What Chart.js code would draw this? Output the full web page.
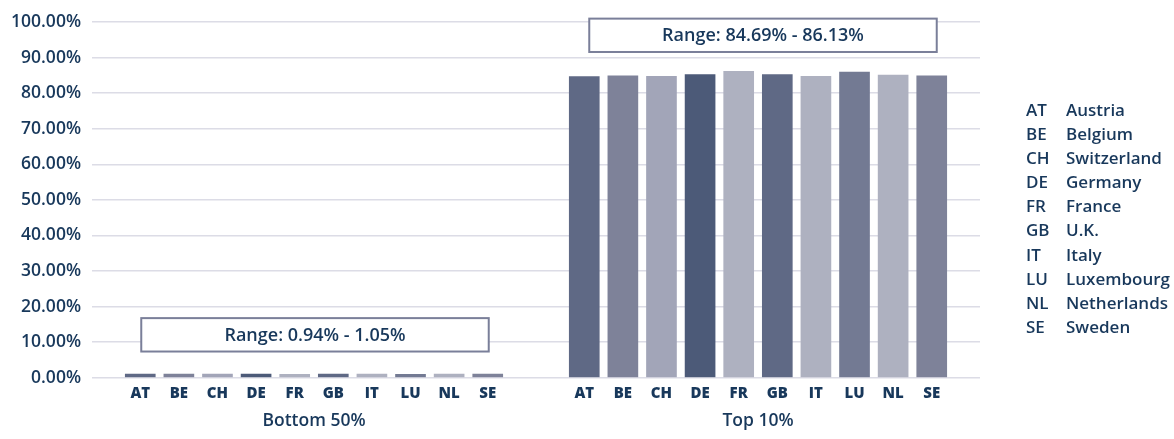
<!DOCTYPE html>
<html>
<head>
<meta charset="utf-8">
<script src="https://cdn.jsdelivr.net/npm/chart.js@4.4.1/dist/chart.umd.min.js"></script>
<style>
  html, body { margin: 0; padding: 0; background: #ffffff; }
  #wrap { position: relative; width: 1174px; height: 439px; }
  #legend { position: absolute; left: 1026px; top: 98px; font-family: "Open Sans", sans-serif; font-weight: 600; font-size: 17px; color: #18385b; }
  #legend div { height: 24.1px; line-height: 24.1px; white-space: nowrap; }
  #legend span { display: inline-block; width: 40px; }
</style>
</head>
<body>
<div id="wrap">
  <canvas id="chart" width="1174" height="439"></canvas>
  <div id="legend"></div>
</div>
<script>
const codes = ['AT', 'BE', 'CH', 'DE', 'FR', 'GB', 'IT', 'LU', 'NL', 'SE'];
const countries = ['Austria', 'Belgium', 'Switzerland', 'Germany', 'France', 'U.K.', 'Italy', 'Luxembourg', 'Netherlands', 'Sweden'];
const groups = ['Bottom 50%', 'Top 10%'];
const bottom50 = [1.05, 1.02, 1.01, 1.04, 0.97, 1.03, 1.00, 0.94, 1.00, 1.02];
const top10 = [84.69, 84.85, 84.70, 85.25, 86.13, 85.20, 84.72, 85.95, 85.05, 84.85];
const yTicks = [0, 10, 20, 30, 40, 50, 60, 70, 80, 90, 100];
const barColors = ['#5f6985', '#7e8299', '#a2a5b8', '#4c5a78', '#aeb1c0', '#5f6985', '#aeb1c0', '#737a93', '#aeb1c0', '#7e8299'];

const navy = '#18385b';
const font = '"Open Sans", sans-serif';

// half-width slots: 2 empty, 10 bars on every other slot, gap, 10 bars, 2 empty
const LEFT_START = 2, RIGHT_START = 25, SLOTS = 46;
const labels = new Array(SLOTS).fill('');
const values = new Array(SLOTS).fill(null);
const colors = new Array(SLOTS).fill('#ffffff');
codes.forEach((c, i) => {
    const a = LEFT_START + i * 2, b = RIGHT_START + i * 2;
    labels[a] = c; labels[b] = c;
    values[a] = bottom50[i]; values[b] = top10[i];
    colors[a] = barColors[i]; colors[b] = barColors[i];
});

// legend on the right
document.getElementById('legend').innerHTML = codes.map((c, i) => `<div><span>${c}</span>${countries[i]}</div>`).join('');

const rangeText = arr => `Range: ${Math.min(...arr).toFixed(2)}% - ${Math.max(...arr).toFixed(2)}%`;

// boxes with min/max text above each group
const rangeBoxes = {
    id: 'rangeBoxes',
    afterDatasetsDraw(chart) {
        const { ctx, scales: { x, y } } = chart;
        const boxes = [
            { from: LEFT_START, to: LEFT_START + 18, dx: 1, top: 16.75, bottom: 7.36, text: rangeText(bottom50) },
            { from: RIGHT_START, to: RIGHT_START + 18, dx: 5, top: 100.95, bottom: 91.57, text: rangeText(top10) }
        ];
        ctx.save();
        boxes.forEach(b => {
            const x1 = x.getPixelForValue(b.from) + b.dx;
            const x2 = x.getPixelForValue(b.to) + b.dx;
            const y1 = y.getPixelForValue(b.top);
            const y2 = y.getPixelForValue(b.bottom);
            ctx.fillStyle = '#ffffff';
            ctx.fillRect(x1, y1, x2 - x1, y2 - y1);
            ctx.strokeStyle = '#7a7f99';
            ctx.lineWidth = 2;
            ctx.strokeRect(x1, y1, x2 - x1, y2 - y1);
            ctx.fillStyle = navy;
            ctx.font = `600 18px ${font}`;
            ctx.textAlign = 'center';
            ctx.textBaseline = 'middle';
            ctx.fillText(b.text, (x1 + x2) / 2, (y1 + y2) / 2 + 1);
        });
        ctx.restore();
    }
};

new Chart(document.getElementById('chart'), {
    type: 'bar',
    data: {
        labels: labels,
        datasets: [{
            data: values,
            backgroundColor: colors,
            barThickness: 30,
            xAxisID: 'x'
        }]
    },
    options: {
        responsive: false,
        animation: false,
        events: [],
        layout: { padding: { top: 22, right: 194, bottom: 0, left: 0 } },
        plugins: { legend: { display: false }, tooltip: { enabled: false } },
        scales: {
            y: {
                min: 0, max: 100,
                afterBuildTicks: s => { s.ticks = yTicks.map(v => ({ value: v })); },
                afterFit: s => { s.width = 92; },
                border: { display: false },
                grid: { color: '#dcdce6', lineWidth: 1.5, drawTicks: false },
                ticks: {
                    padding: 11,
                    color: navy,
                    font: { family: font, size: 17.5, weight: '600' },
                    callback: v => v.toFixed(2) + '%'
                }
            },
            x: {
                position: 'bottom',
                afterFit: s => { s.height = 30; },
                border: { display: false },
                grid: { display: false },
                ticks: {
                    autoSkip: false, maxRotation: 0, padding: -1,
                    color: navy,
                    font: { family: font, size: 15, weight: '800' }
                }
            },
            x2: {
                type: 'category',
                position: 'bottom',
                labels: groups,
                afterFit: s => { s.height = 31.3; },
                border: { display: false },
                grid: { display: false },
                ticks: {
                    padding: -5,
                    color: navy,
                    font: { family: font, size: 17.5, weight: '600' }
                }
            }
        }
    },
    plugins: [rangeBoxes]
});
</script>
</body>
</html>
